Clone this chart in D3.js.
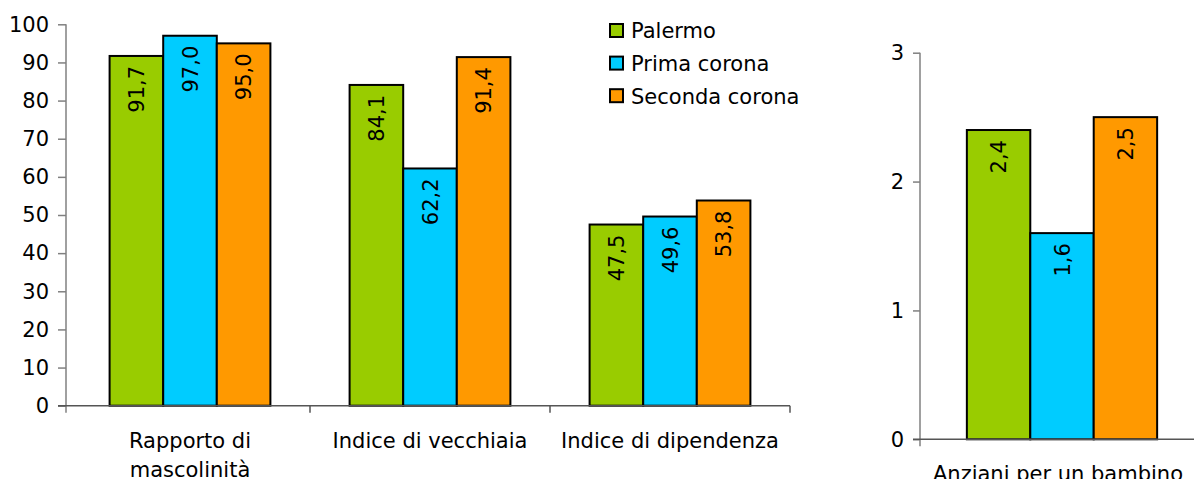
<!DOCTYPE html>
<html>
<head>
<meta charset="utf-8">
<script src="https://cdn.jsdelivr.net/npm/d3@7"></script>
<style>
  html, body { margin: 0; padding: 0; background: #fff; }
  svg { display: block; font-family: "DejaVu Sans", Verdana, sans-serif; }
</style>
</head>
<body>
<svg id="chart" width="1194" height="479"></svg>
<script>
// Indicatori demografici: Palermo e comuni di prima e seconda corona
const series = ["Palermo", "Prima corona", "Seconda corona"];
const colors = ["#99CC00", "#00CCFF", "#FF9900"];

const leftCategories = [["Rapporto di", "mascolinità"], ["Indice di vecchiaia"], ["Indice di dipendenza"]];
const leftValues = [
  [91.7, 97.0, 95.0],   // Rapporto di mascolinità
  [84.1, 62.2, 91.4],   // Indice di vecchiaia
  [47.5, 49.6, 53.8]    // Indice di dipendenza
];
const leftTicks = [0, 10, 20, 30, 40, 50, 60, 70, 80, 90, 100];

const rightCategories = [["Anziani per un bambino"]];
const rightValues = [
  [2.4, 1.6, 2.5]
];
const rightTicks = [0, 1, 2, 3];

const svg = d3.select("#chart");
const FONT = 21;
const fmt = v => d3.format(".1f")(v).replace(".", ",");

function panel(opts) {
  const g = svg.append("g");
  const y = d3.scaleLinear().domain(opts.yDomain).range([opts.y0, opts.y1]);
  const x0 = d3.scaleBand().domain(opts.categories.map((d, i) => i)).range([opts.xStart, opts.xEnd]);
  const groupW = x0.bandwidth() * 0.67;
  const x1 = d3.scaleBand().domain(series).range([0, groupW]);

  // bars
  opts.values.forEach((vals, ci) => {
    const gx = x0(ci) + (x0.bandwidth() - groupW) / 2;
    const grp = g.append("g").attr("transform", `translate(${gx},0)`);
    grp.selectAll("rect").data(vals).join("rect")
      .attr("x", (d, i) => x1(series[i]))
      .attr("y", d => y(d))
      .attr("width", x1.bandwidth())
      .attr("height", d => y(0) - y(d))
      .attr("fill", (d, i) => colors[i])
      .attr("stroke", "#000")
      .attr("stroke-width", 2);
    grp.selectAll("text").data(vals).join("text")
      .attr("transform", (d, i) => `translate(${x1(series[i]) + x1.bandwidth() / 2},${y(d) + 10}) rotate(-90)`)
      .attr("text-anchor", "end")
      .attr("dy", "0.36em")
      .attr("font-size", FONT)
      .attr("fill", "#000")
      .text(d => fmt(d));
  });

  // y axis
  const yAxis = d3.axisLeft(y).tickValues(opts.ticks).tickSize(opts.tickLen).tickPadding(9).tickFormat(d3.format("d"));
  const ya = g.append("g").attr("transform", `translate(${opts.axisX},0)`).call(yAxis);
  ya.select(".domain").remove();
  ya.selectAll(".tick line").attr("stroke", "#808080").attr("stroke-width", 1.5);
  ya.selectAll(".tick text").attr("font-size", FONT).attr("fill", "#000").attr("font-family", "DejaVu Sans, Verdana, sans-serif");
  g.append("line")
    .attr("x1", opts.axisX).attr("x2", opts.axisX)
    .attr("y1", opts.y1).attr("y2", opts.y0 + 7)
    .attr("stroke", "#808080").attr("stroke-width", 1.5);

  // x axis baseline with category separators
  g.append("line")
    .attr("x1", opts.axisX - opts.tickLen).attr("x2", opts.xEnd)
    .attr("y1", y(0)).attr("y2", y(0))
    .attr("stroke", "#555").attr("stroke-width", 1.5);
  const bounds = opts.categories.map((d, i) => x0(i)).concat([opts.xEnd]).slice(1);
  g.selectAll("line.sep").data(bounds).join("line")
    .attr("class", "sep")
    .attr("x1", d => d).attr("x2", d => d)
    .attr("y1", y(0)).attr("y2", y(0) + 7)
    .attr("stroke", "#555").attr("stroke-width", 1.5);

  // category labels
  opts.categories.forEach((lines, ci) => {
    const cx = x0(ci) + x0.bandwidth() / 2 + (opts.labelShift || 0);
    const t = g.append("text")
      .attr("x", cx)
      .attr("y", opts.labelY)
      .attr("text-anchor", "middle")
      .attr("font-size", FONT)
      .attr("fill", "#000");
    lines.forEach((l, li) => {
      t.append("tspan")
        .attr("x", cx)
        .attr("dy", li === 0 ? 0 : 28.5)
        .text(l);
    });
  });
}

panel({
  categories: leftCategories, values: leftValues, ticks: leftTicks,
  yDomain: [0, 100], y0: 405.7, y1: 24.3,
  xStart: 70, xEnd: 790, axisX: 66, tickLen: 8, labelY: 448.3
});

panel({
  categories: rightCategories, values: rightValues, ticks: rightTicks,
  yDomain: [0, 3], y0: 439.3, y1: 52.7,
  xStart: 920, xEnd: 1204, axisX: 920, tickLen: 7, labelY: 481, labelShift: -4
});

// legend
const legend = svg.append("g").attr("transform", "translate(609,23)");
const items = legend.selectAll("g").data(series).join("g")
  .attr("transform", (d, i) => `translate(0,${i * 32.6})`);
items.append("rect")
  .attr("x", 1).attr("y", 1).attr("width", 13).attr("height", 13)
  .attr("fill", (d, i) => colors[i])
  .attr("stroke", "#000").attr("stroke-width", 2);
items.append("text")
  .attr("x", 22).attr("y", 15.3)
  .attr("font-size", FONT)
  .attr("fill", "#000")
  .text(d => d);
</script>
</body>
</html>
